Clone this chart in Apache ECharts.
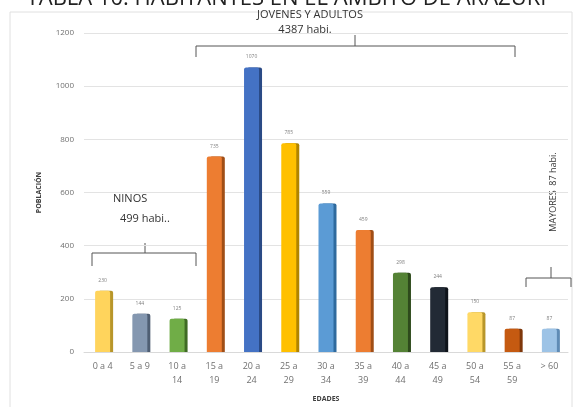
<!DOCTYPE html>
<html><head><meta charset="utf-8">
<script src="https://cdn.jsdelivr.net/npm/echarts@6/dist/echarts.min.js"></script>
<style>html,body{margin:0;padding:0;background:#fff}#c{width:573px;height:407px}</style>
</head><body><div id="c"></div>
<script>
const categories = ['0 a 4','5 a 9','10 a\n14','15 a\n19','20 a\n24','25 a\n29','30 a\n34','35 a\n39','40 a\n44','45 a\n49','50 a\n54','55 a\n59','> 60'];
const values = [230,144,125,735,1070,785,559,459,298,244,150,87,87];
const yTicks = [0,200,400,600,800,1000,1200];
const colors = ['#FFD45C','#8497B0','#70AD47','#ED7D31','#4472C4','#FFC000','#5B9BD5','#ED7D31','#548235','#222A35','#FFD966','#C55A11','#9DC3E6'];
const shades = ['#B8962A','#4F5E73','#3F6B24','#A04E16','#2A4A85','#B08400','#2F6A9E','#A04E16','#2E4A1C','#0E131A','#B8962A','#7E370A','#5F8BB5'];

const chart = echarts.init(document.getElementById('c'));
const font = 'Open Sans, DejaVu Sans, sans-serif';
chart.setOption({
  animation:false,
  textStyle:{fontFamily:font},
  grid:{left:84,right:5,top:33,bottom:53},
  xAxis:{type:'category',data:categories,
    axisLine:{lineStyle:{color:'#d9d9d9'}},axisTick:{show:false},
    axisLabel:{color:'#707070',fontSize:9,lineHeight:14,margin:7,interval:0},
    name:'EDADES',nameLocation:'middle',nameGap:43,
    nameTextStyle:{fontSize:7,fontWeight:'bold',color:'#404040'}},
  yAxis:{type:'value',min:0,max:1200,interval:200,
    axisLine:{show:false},axisTick:{show:false},
    splitLine:{lineStyle:{color:'#e3e3e3'}},
    axisLabel:{color:'#707070',fontSize:8,margin:10,formatter:v=>yTicks.includes(v)?String(v):''},
    name:'POBLACIÓN',nameLocation:'middle',nameGap:42,
    nameTextStyle:{fontSize:7,fontWeight:'bold',color:'#404040'}},
  series:[{type:'bar',barWidth:15,
    data:values.map((v,i)=>({value:v,itemStyle:{color:colors[i],shadowColor:shades[i],shadowOffsetX:3,shadowOffsetY:0,shadowBlur:0,borderRadius:[2,2,0,0]}})),
    label:{show:true,position:'top',fontSize:5,color:'#808080',distance:8}
  }],
  graphic:[
    {type:'rect',shape:{x:10,y:12,width:562,height:400},style:{fill:'none',stroke:'#e0e0e0',lineWidth:1},z:-1},
    {type:'text',left:'center',top:-12,style:{text:'TABLA 10: HABITANTES EN EL ÁMBITO DE ARAZURI',fontSize:22,fill:'#222',fontFamily:font,letterSpacing:1}},
    {type:'text',x:310,y:15,style:{text:'JOVENES Y ADULTOS',fontSize:11,fill:'#333',align:'center',verticalAlign:'middle',fontFamily:font}},
    {type:'text',x:305,y:30,style:{text:'4387 habi.',fontSize:11,fill:'#333',align:'center',verticalAlign:'middle',fontFamily:font}},
    {type:'polyline',shape:{points:[[196,57],[196,46],[515,46],[515,57]]},style:{stroke:'#555',lineWidth:1,fill:'none'}},
    {type:'line',shape:{x1:355,y1:46,x2:355,y2:35},style:{stroke:'#555',lineWidth:1}},
    {type:'text',x:113,y:199,style:{text:'NIÑOS',fontSize:11,fill:'#333',verticalAlign:'middle',fontFamily:font}},
    {type:'text',x:120,y:219,style:{text:'499 habi..',fontSize:11,fill:'#333',verticalAlign:'middle',fontFamily:font}},
    {type:'polyline',shape:{points:[[92,266],[92,253],[196,253],[196,266]]},style:{stroke:'#555',lineWidth:1,fill:'none'}},
    {type:'line',shape:{x1:145,y1:253,x2:145,y2:243},style:{stroke:'#555',lineWidth:1}},
    {type:'text',x:553,y:192,rotation:Math.PI/2,style:{text:'MAYORES  87 habi.',fontSize:9,fill:'#333',align:'center',verticalAlign:'middle',fontFamily:font}},
    {type:'polyline',shape:{points:[[526,287],[526,278],[571,278],[571,287]]},style:{stroke:'#555',lineWidth:1,fill:'none'}},
    {type:'line',shape:{x1:551,y1:278,x2:551,y2:267},style:{stroke:'#555',lineWidth:1}}
  ]
});
</script></body></html>
